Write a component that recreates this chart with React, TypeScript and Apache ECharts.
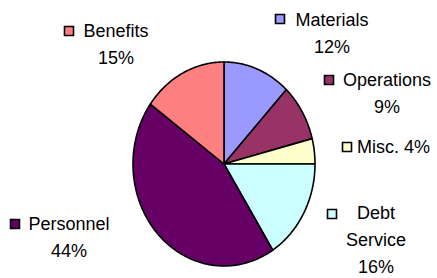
import React, { useEffect, useRef } from 'react';
import * as echarts from 'echarts';

const categories = ['Materials', 'Operations', 'Misc.', 'Debt Service', 'Personnel', 'Benefits'];
const values = [12, 9, 4, 16, 44, 15];
const colors = ['#9999FF', '#993366', '#FFFFCC', '#CCFFFF', '#660066', '#FF8080'];

// layout (not data): pie ellipse and label anchor positions
const PIE = { cx: 224, cy: 164, rx: 91, ry: 102 };
const LINE_H = 27;
const LABELS = [
  { kx: 280, ky: 19, tx: 332, ty: 20, mode: 'stack' },
  { kx: 329, ky: 80, tx: 387, ty: 80, mode: 'stack' },
  { kx: 347, ky: 147, tx: 357, ty: 147, mode: 'inline' },
  { kx: 332, ky: 214, tx: 376, ty: 213, mode: 'wrap' },
  { kx: 15, ky: 224, tx: 69, ty: 224, mode: 'stack' },
  { kx: 69, ky: 31, tx: 116, ty: 31, mode: 'stack' },
];

const FONT = '"Liberation Sans", Arial, sans-serif';

export default function App() {
  const ref = useRef<HTMLDivElement>(null);
  useEffect(() => {
    if (!ref.current) return;
    const chart = echarts.init(ref.current, undefined, { renderer: 'svg' });
    const total = values.reduce((a, b) => a + b, 0);
    const option: any = {
      animation: false,
      backgroundColor: '#fff',
      series: [
        {
          type: 'custom',
          coordinateSystem: 'none',
          data: values.map((v, i) => ({ value: v, name: categories[i] })),
          renderItem: (params: any, api: any) => {
            const i = params.dataIndex;
            const v = api.value(0);
            let start = 0;
            for (let j = 0; j < i; j++) start += values[j];
            const a0 = (start / total) * Math.PI * 2;
            const a1 = ((start + v) / total) * Math.PI * 2;
            const steps = Math.max(2, Math.ceil((a1 - a0) / (Math.PI / 180)));
            const pts: number[][] = [[PIE.cx, PIE.cy]];
            for (let k = 0; k <= steps; k++) {
              const a = a0 + ((a1 - a0) * k) / steps;
              pts.push([PIE.cx + PIE.rx * Math.sin(a), PIE.cy - PIE.ry * Math.cos(a)]);
            }
            const L = LABELS[i];
            const pct = v + '%';
            let text: string;
            let align = 'center';
            if (L.mode === 'inline') {
              text = categories[i] + ' ' + pct;
              align = 'left';
            } else if (L.mode === 'wrap') {
              text = categories[i].split(' ').join('\n') + '\n' + pct;
            } else {
              text = categories[i] + '\n' + pct;
            }
            return {
              type: 'group',
              children: [
                {
                  type: 'polygon',
                  shape: { points: pts },
                  style: { fill: colors[i], stroke: '#000', lineWidth: 1.6, lineJoin: 'round' },
                },
                {
                  type: 'rect',
                  shape: { x: L.kx - 4.5, y: L.ky - 4.5, width: 9, height: 9 },
                  style: { fill: colors[i], stroke: '#000', lineWidth: 1.6 },
                },
                {
                  type: 'text',
                  style: {
                    text,
                    x: L.tx,
                    y: L.ty - LINE_H / 2,
                    align,
                    verticalAlign: 'top',
                    fontSize: 18,
                    fontFamily: FONT,
                    lineHeight: LINE_H,
                    fill: '#000',
                  },
                },
              ],
            };
          },
        },
      ],
    };
    chart.setOption(option);
    return () => chart.dispose();
  }, []);
  return (
    <div
      ref={ref}
      style={{ position: 'fixed', left: 0, top: 0, width: 437, height: 278 }}
    />
  );
}
